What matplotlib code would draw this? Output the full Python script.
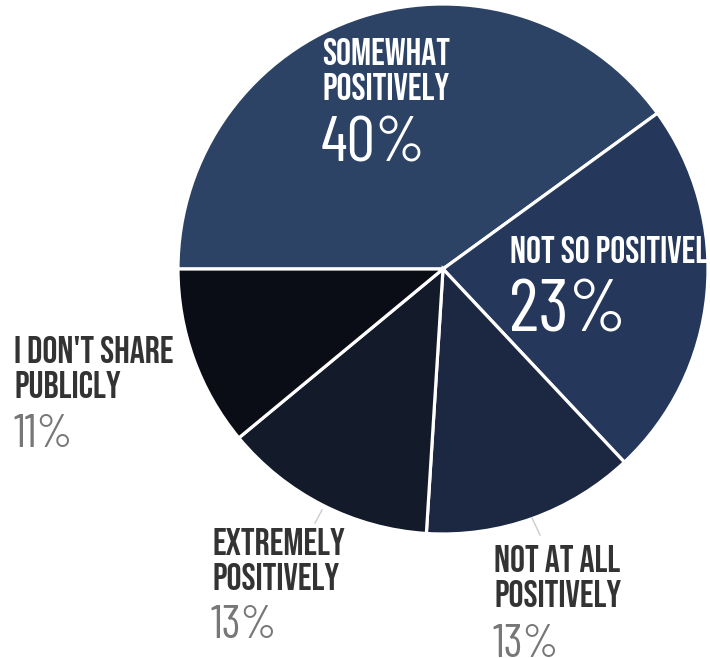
import matplotlib
matplotlib.use("Agg")
import matplotlib.pyplot as plt
from matplotlib import font_manager

# share of responses, clockwise from the left
labels = [["SOMEWHAT", "POSITIVELY"], ["NOT SO POSITIVELY"], ["NOT AT ALL", "POSITIVELY"],
          ["EXTREMELY", "POSITIVELY"], ["I DON'T SHARE", "PUBLICLY"]]
values = [40, 23, 13, 13, 11]
colors = ["#2d4365", "#25375a", "#1c2742", "#131a29", "#0a0d15"]

names = {f.name for f in font_manager.fontManager.ttflist}
head_font = "Bebas Neue" if "Bebas Neue" in names else "DejaVu Sans"
num_font = "Barlow Condensed" if "Barlow Condensed" in names else "DejaVu Sans"

fig = plt.figure(figsize=(7.1, 6.58), dpi=100)
ax = fig.add_axes([0, 0, 1, 1])
H = 658

cx, cy, r = 443, H - 269, 265
ax.pie(values, center=(cx, cy), radius=r, startangle=180, counterclock=False,
       colors=colors, wedgeprops=dict(edgecolor="white", linewidth=2.3))
ax.set_xlim(0, 710)
ax.set_ylim(0, H)
ax.set_aspect("equal")
ax.axis("off")

def head(x, y, lines, color, gap=35):
    for i, s in enumerate(lines):
        ax.text(x, H - (y + i * gap), s, fontsize=27, color=color,
                family=[head_font, "DejaVu Sans"], va="baseline", ha="left")

def num(x, y, s, size, color):
    ax.text(x, H - y, s, fontsize=size, color=color, fontweight=400,
            family=[num_font, "DejaVu Sans"], va="baseline", ha="left")

# labels inside the two big slices
head(322, 65, labels[0], "white")
num(321, 162, f"{values[0]}%", 46, "white")
head(510, 263, labels[1], "white")
num(509, 332, f"{values[1]}%", 53, "white")

# labels outside the pie
dark, grey = "#333333", "#777777"
head(14, 363, labels[4], dark)
num(14, 447, f"{values[4]}%", 33, grey)
head(212, 555, labels[3], dark)
num(211, 638, f"{values[3]}%", 33, grey)
head(494, 572, labels[2], dark)
num(493, 657, f"{values[2]}%", 33, grey)

# leader lines
ax.plot([322, 315], [H - 510, H - 523], color="#cccccc", lw=1)
ax.plot([532, 540], [H - 518, H - 535], color="#cccccc", lw=1)

fig.savefig("out.png", dpi=100)
